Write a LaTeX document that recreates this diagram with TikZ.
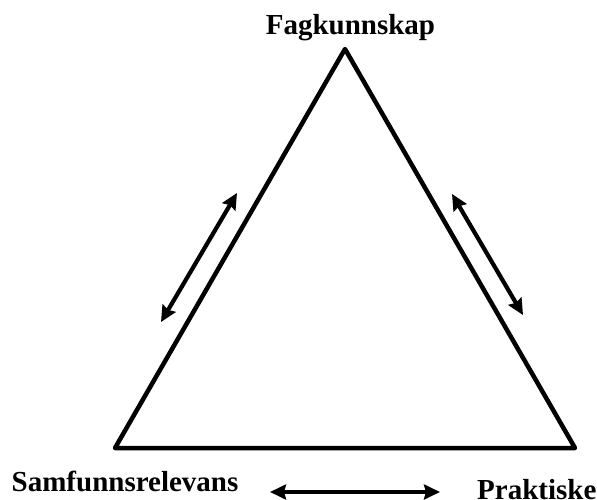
\documentclass[tikz,border=0pt]{standalone}
\usepackage{fontspec}
\setmainfont{Liberation Serif}
\usetikzlibrary{arrows.meta}
\begin{document}
\begin{tikzpicture}[x=1pt,y=-1pt,
  edge/.style={line width=4.5pt,line join=round},
  twoway/.style={line width=4.2pt,{Stealth[length=16pt,width=15pt,inset=2pt]}-{Stealth[length=16pt,width=15pt,inset=2pt]}},
  lbl/.style={font=\bfseries\fontsize{29}{32}\selectfont,inner sep=0pt}]
\useasboundingbox (0,0) rectangle (597,500);
\coordinate (top) at (345,49);
\coordinate (bl) at (115,448);
\coordinate (br) at (575,448);
\draw[edge] (top) -- (bl) -- (br) -- cycle;
\node[lbl,anchor=base] (fag) at (350.5,35) {Fagkunnskap};
\node[lbl,anchor=base west] (sam) at (11.5,491) {Samfunnsrelevans};
\node[lbl,anchor=base west] (prak) at (477,499) {Praktiske};
\coordinate (l1) at (161,322);
\coordinate (l2) at (237,193);
\coordinate (r1) at (452,194);
\coordinate (r2) at (523,315);
\coordinate (b1) at (270,492);
\coordinate (b2) at (440,492);
\draw[twoway] (l1) -- (l2);
\draw[twoway] (r1) -- (r2);
\draw[twoway] (b1) -- (b2);
\end{tikzpicture}
\end{document}
